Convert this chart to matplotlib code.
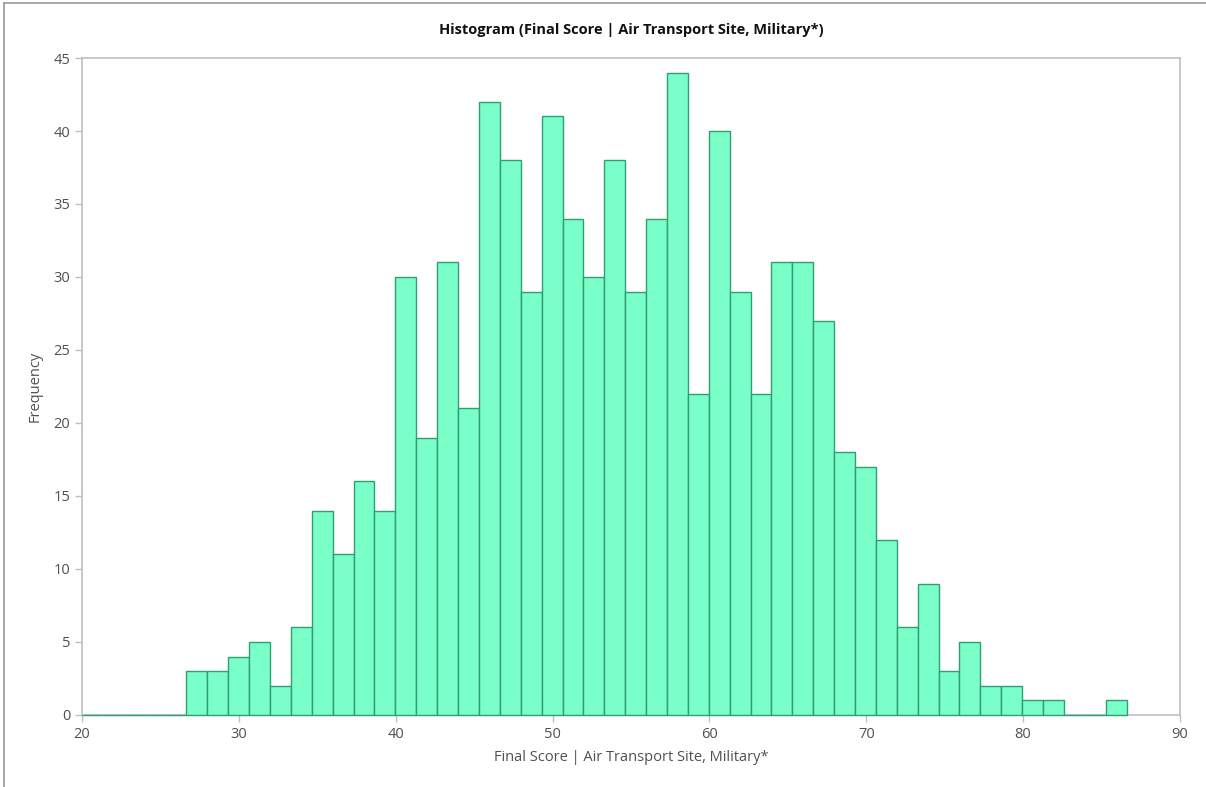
import matplotlib.pyplot as plt
from matplotlib.lines import Line2D
import numpy as np

plt.rcParams['font.family'] = ['Open Sans', 'DejaVu Sans']

# histogram of final scores, 50 bins starting at 20
bin_start = 20.0
bin_width = 1.332
counts = [0, 0, 0, 0, 0,
          3, 3, 4, 5, 2, 6, 14, 11, 16, 14,
          30, 19, 31, 21, 42, 38, 29, 41, 34, 30,
          38, 29, 34, 44, 22, 40, 29, 22, 31, 31,
          27, 18, 17, 12, 6, 9, 3, 5, 2, 2,
          1, 1, 0, 0, 1]
x_ticks = [20, 30, 40, 50, 60, 70, 80, 90]
y_ticks = [0, 5, 10, 15, 20, 25, 30, 35, 40, 45]

left_edges = bin_start + bin_width * np.arange(len(counts))

fig = plt.figure(figsize=(12.06, 7.87), dpi=100)
ax = fig.add_axes([0.068, 0.0915, 0.9104, 0.8348])

ax.bar(left_edges, counts, width=bin_width, align='edge',
       color='#7affc8', edgecolor='#2f9e72', linewidth=1.0, zorder=3,
       clip_on=False)

ax.set_xlim(20, 90)
ax.set_ylim(0, 45)
ax.set_xticks(x_ticks)
ax.set_yticks(y_ticks)

for side in ['left', 'bottom', 'top', 'right']:
    ax.spines[side].set_color('#c0c0c0')
    ax.spines[side].set_linewidth(1.2)

ax.tick_params(axis='both', colors='#c0c0c0', labelcolor='#505050',
               labelsize=10.5, length=5, width=1)

ax.set_title('Histogram (Final Score | Air Transport Site, Military*)',
             fontsize=10.5, fontweight='bold', color='#111111', pad=17)
ax.set_xlabel('Final Score | Air Transport Site, Military*', fontsize=10.5,
              color='#505050', labelpad=6)
ax.set_ylabel('Frequency', fontsize=10.5, color='#505050', labelpad=8)

# thin border at top and left of the picture
fig.add_artist(Line2D([0.003, 1.0], [0.996, 0.996], color='#999999', lw=1.2))
fig.add_artist(Line2D([0.003, 0.003], [0.0, 0.996], color='#999999', lw=1.2))

fig.savefig('out.png', dpi=100)
